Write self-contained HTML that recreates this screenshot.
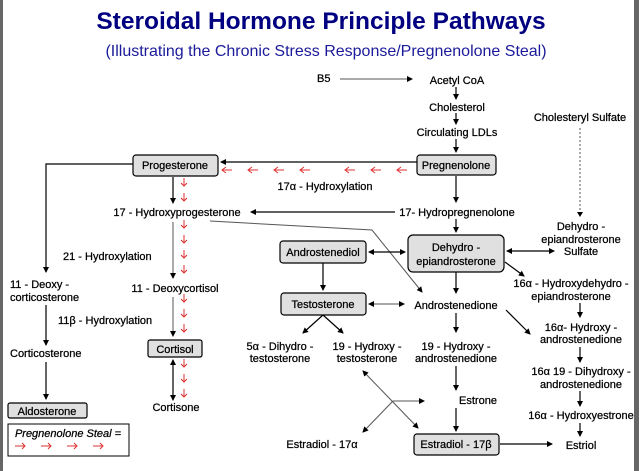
<!DOCTYPE html>
<html><head><meta charset="utf-8"><style>
html,body{margin:0;padding:0;background:#fff}
svg{display:block}
text{font-family:"Liberation Sans",Arial,sans-serif;font-size:11px;fill:#000;stroke:#000;stroke-width:0.25}
.c{text-anchor:middle}
.bx{fill:#e0e0e0;stroke:#000;stroke-width:1.2}
.l{stroke:#000;stroke-width:1.2;fill:none}
.g{stroke:#555;stroke-width:1;fill:none}
.r{stroke:#e03030;stroke-width:1;fill:none}
</style></head><body>
<svg width="639" height="471" viewBox="0 0 639 471" xmlns="http://www.w3.org/2000/svg">
<defs>
<marker id="a" markerWidth="6" markerHeight="6" refX="5" refY="3" orient="auto" markerUnits="userSpaceOnUse"><path d="M0,0L6,3L0,6z" fill="#000"/></marker>
<marker id="s" markerWidth="6" markerHeight="6" refX="1" refY="3" orient="auto" markerUnits="userSpaceOnUse"><path d="M6,0L0,3L6,6z" fill="#000"/></marker>
</defs>
<rect x="0" y="0" width="3" height="471" fill="#666"/>
<rect x="634" y="0" width="5" height="471" fill="#666"/>
<text x="321" y="29" class="c" style="font-size:24.5px;font-weight:bold;fill:#000080;stroke:none">Steroidal Hormone Principle Pathways</text>
<text x="326" y="56" class="c" style="font-size:16px;fill:#1a1a9a;stroke:none">(Illustrating the Chronic Stress Response/Pregnenolone Steal)</text>

<text x="317" y="82">B5</text>
<line class="g" x1="340" y1="79" x2="412" y2="79" marker-end="url(#a)"/>
<text x="457" y="84" class="c">Acetyl CoA</text>
<line class="l" x1="456" y1="87" x2="456" y2="99" marker-end="url(#a)"/>
<text x="457" y="111" class="c">Cholesterol</text>
<line class="l" x1="456" y1="113" x2="456" y2="124" marker-end="url(#a)"/>
<text x="457" y="136" class="c">Circulating LDLs</text>
<line class="l" x1="456" y1="139" x2="456" y2="152" marker-end="url(#a)"/>
<rect class="bx" x="417" y="155" width="79" height="20" rx="3"/>
<text x="456" y="169" class="c">Pregnenolone</text>

<text x="580" y="121" class="c">Cholesteryl Sulfate</text>
<line x1="580" y1="128" x2="580" y2="212" stroke="#555" stroke-dasharray="2,2"/>
<path d="M577,212L583,212L580,217z"/>
<text x="581" y="230" class="c">Dehydro -</text>
<text x="581" y="243" class="c">epiandrosterone</text>
<text x="581" y="255" class="c">Sulfate</text>

<rect class="bx" x="133" y="155" width="85" height="21" rx="3"/>
<text x="175" y="169" class="c">Progesterone</text>
<line class="l" x1="417" y1="162" x2="221" y2="162" marker-end="url(#a)"/>
<g class="r">
<path d="M222,170h10M226,167l-4,3l4,3"/>
<path d="M248,170h10M252,167l-4,3l4,3"/>
<path d="M274,170h10M278,167l-4,3l4,3"/>
<path d="M300,170h10M304,167l-4,3l4,3"/>
<path d="M345,170h10M349,167l-4,3l4,3"/>
<path d="M371,170h10M375,167l-4,3l4,3"/>
<path d="M397,170h10M401,167l-4,3l4,3"/>
</g>
<text x="325" y="190" class="c">17α - Hydroxylation</text>

<line class="l" x1="456" y1="176" x2="456" y2="202" marker-end="url(#a)"/>
<text x="457" y="216" class="c">17- Hydropregnenolone</text>
<line class="l" x1="395" y1="212" x2="251" y2="212" marker-end="url(#a)"/>
<text x="177" y="216" class="c">17 - Hydroxyprogesterone</text>
<polyline class="g" points="210,221 372,230 422,292" marker-end="url(#a)"/>

<line class="l" x1="456" y1="219" x2="456" y2="232" marker-end="url(#a)"/>
<rect class="bx" x="408" y="235" width="96" height="37" rx="5"/>
<text x="456" y="251" class="c">Dehydro -</text>
<text x="456" y="265" class="c">epiandrosterone</text>
<rect class="bx" x="280" y="241" width="86" height="22" rx="3"/>
<text x="323" y="256" class="c">Androstenediol</text>
<line class="l" x1="369" y1="252" x2="405" y2="252" marker-start="url(#s)" marker-end="url(#a)"/>
<line class="l" x1="507" y1="251" x2="554" y2="251" marker-start="url(#s)" marker-end="url(#a)"/>
<line class="l" x1="505" y1="262" x2="524" y2="276" marker-end="url(#a)"/>
<text x="571" y="287" class="c">16α - Hydroxydehydro -</text>
<text x="571" y="300" class="c">epiandrosterone</text>
<line class="l" x1="580" y1="303" x2="580" y2="317" marker-end="url(#a)"/>

<line class="l" x1="323" y1="263" x2="323" y2="290" marker-end="url(#a)"/>
<rect class="bx" x="281" y="293" width="85" height="22" rx="3"/>
<text x="323" y="308" class="c">Testosterone</text>
<line class="g" x1="369" y1="304" x2="404" y2="304" marker-start="url(#s)" marker-end="url(#a)"/>
<text x="456" y="309" class="c">Androstenedione</text>
<line class="l" x1="456" y1="272" x2="456" y2="293" marker-end="url(#a)"/>
<line class="l" x1="506" y1="310" x2="530" y2="334" marker-end="url(#a)"/>
<text x="581" y="331" class="c">16α- Hydroxy -</text>
<text x="581" y="343" class="c">androstenedione</text>
<line class="l" x1="580" y1="347" x2="580" y2="362" marker-end="url(#a)"/>
<text x="581" y="375" class="c">16α 19 - Dihydroxy -</text>
<text x="581" y="388" class="c">androstenedione</text>
<line class="l" x1="580" y1="391" x2="580" y2="406" marker-end="url(#a)"/>
<text x="581" y="419" class="c">16α - Hydroxyestrone</text>
<line class="l" x1="580" y1="423" x2="580" y2="436" marker-end="url(#a)"/>
<text x="581" y="449" class="c">Estriol</text>

<line class="l" x1="323" y1="315" x2="303" y2="333" marker-end="url(#a)"/>
<line class="l" x1="323" y1="315" x2="343" y2="333" marker-end="url(#a)"/>
<text x="280" y="350" class="c">5α - Dihydro -</text>
<text x="280" y="362" class="c">testosterone</text>
<text x="367" y="350" class="c">19 - Hydroxy -</text>
<text x="367" y="362" class="c">testosterone</text>
<line class="l" x1="456" y1="313" x2="456" y2="332" marker-end="url(#a)"/>
<text x="456" y="350" class="c">19 - Hydroxy -</text>
<text x="456" y="362" class="c">androstenedione</text>
<line class="l" x1="456" y1="366" x2="456" y2="390" marker-end="url(#a)"/>
<text x="478" y="404" class="c">Estrone</text>
<line class="g" x1="363" y1="371" x2="418" y2="428" marker-start="url(#s)" marker-end="url(#a)"/>
<line class="g" x1="393" y1="401" x2="363" y2="432" marker-end="url(#a)"/>
<line class="g" x1="393" y1="401" x2="424" y2="401" marker-end="url(#a)"/>
<line class="l" x1="456" y1="408" x2="456" y2="431" marker-end="url(#a)"/>
<text x="322" y="448" class="c">Estradiol - 17α</text>
<rect class="bx" x="414" y="434" width="85" height="21" rx="3"/>
<text x="456" y="448" class="c">Estradiol - 17β</text>
<line class="l" x1="500" y1="444" x2="552" y2="444" marker-end="url(#a)"/>

<polyline class="l" points="133,164 46,164 46,272" marker-end="url(#a)"/>
<text x="10" y="288">11 - Deoxy -</text>
<text x="10" y="301">corticosterone</text>
<line class="l" x1="46" y1="305" x2="46" y2="345" marker-end="url(#a)"/>
<text x="58" y="324">11β - Hydroxylation</text>
<text x="10" y="357">Corticosterone</text>
<line class="l" x1="46" y1="362" x2="46" y2="399" marker-end="url(#a)"/>
<rect class="bx" x="8" y="403" width="79" height="15" rx="2"/>
<text x="47" y="415" class="c">Aldosterone</text>
<rect x="8" y="424" width="121" height="32" fill="#fff" stroke="#000"/>
<text x="68" y="437" class="c" style="font-style:italic">Pregnenolone Steal =</text>
<g class="r">
<path d="M15,446h10M22,443l3,3l-3,3"/>
<path d="M41,446h10M48,443l3,3l-3,3"/>
<path d="M67,446h10M74,443l3,3l-3,3"/>
<path d="M93,446h10M100,443l3,3l-3,3"/>
</g>

<line class="l" x1="173" y1="177" x2="173" y2="203" marker-end="url(#a)"/>
<line class="g" x1="173" y1="222" x2="173" y2="278" marker-end="url(#a)"/>
<text x="63" y="260">21 - Hydroxylation</text>
<text x="175" y="292" class="c">11 - Deoxycortisol</text>
<line class="g" x1="173" y1="297" x2="173" y2="336" marker-end="url(#a)"/>
<rect class="bx" x="148" y="340" width="54" height="17" rx="2"/>
<text x="175" y="353" class="c">Cortisol</text>
<line class="l" x1="173" y1="360" x2="173" y2="400" marker-start="url(#s)" marker-end="url(#a)"/>
<text x="176" y="411" class="c">Cortisone</text>
<g class="r">
<path d="M184,178v8M181,183l3,3l3,-3"/>
<path d="M184,193v8M181,198l3,3l3,-3"/>
<path d="M184,220v8M181,225l3,3l3,-3"/>
<path d="M184,235v8M181,240l3,3l3,-3"/>
<path d="M184,250v8M181,255l3,3l3,-3"/>
<path d="M184,265v8M181,270l3,3l3,-3"/>
<path d="M184,294v8M181,299l3,3l3,-3"/>
<path d="M184,309v8M181,314l3,3l3,-3"/>
<path d="M184,324v8M181,329l3,3l3,-3"/>
<path d="M184,359v8M181,364l3,3l3,-3"/>
<path d="M184,374v8M181,379l3,3l3,-3"/>
<path d="M184,389v8M181,394l3,3l3,-3"/>
</g>
</svg>
</body></html>
